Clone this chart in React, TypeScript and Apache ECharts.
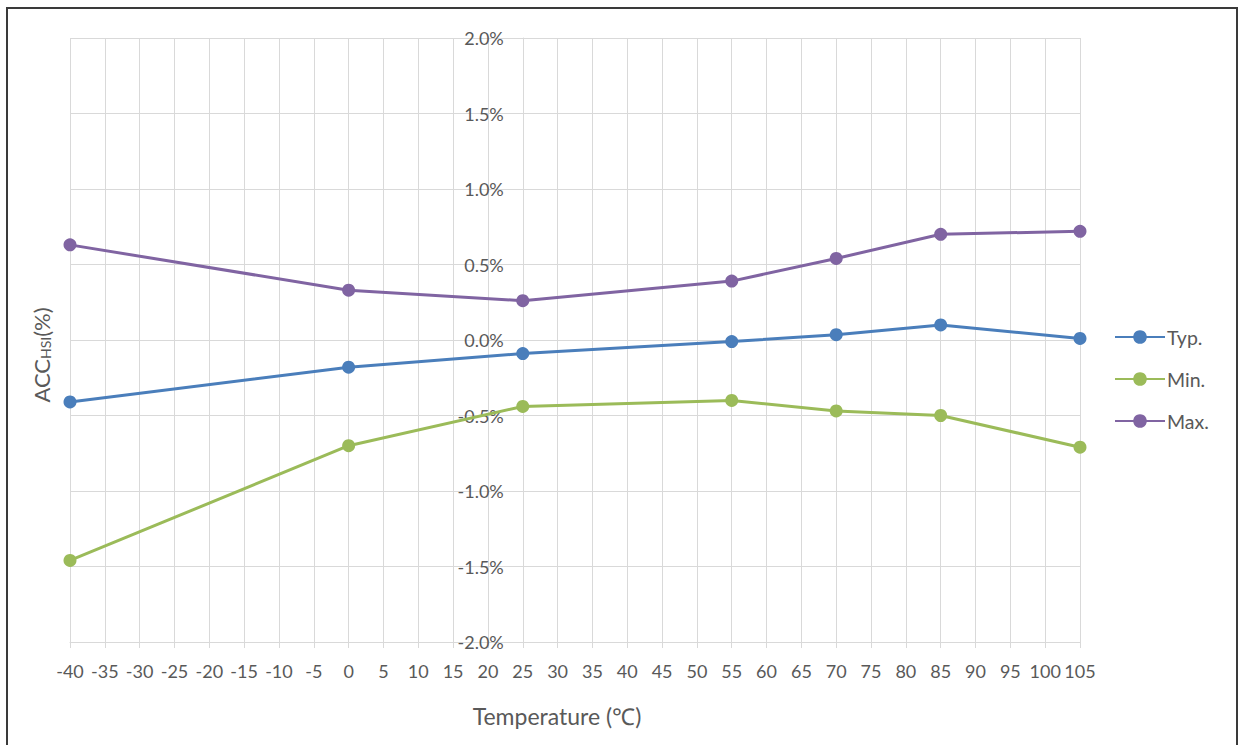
import React, { useEffect, useRef } from "react";
import * as echarts from "echarts";

// Temperature points (°C) shared by all three series
const temperatures = [-40, 0, 25, 55, 70, 85, 105];

// HSI oscillator accuracy, in percent
const typValues = [-0.41, -0.18, -0.09, -0.01, 0.035, 0.1, 0.01];
const minValues = [-1.46, -0.7, -0.44, -0.4, -0.47, -0.5, -0.71];
const maxValues = [0.63, 0.33, 0.26, 0.39, 0.54, 0.7, 0.72];

const seriesNames = ["Typ.", "Min.", "Max."];
const seriesColors = ["#4a7ebb", "#9bbb59", "#8064a2"];

const X_MIN = -40;
const X_MAX = 105;
const X_STEP = 5;
const Y_MIN = -2;
const Y_MAX = 2;
const Y_STEP = 0.5;
// The vertical axis crosses the horizontal one at this temperature
const Y_AXIS_CROSS = 25;

const FONT = "Lato, 'Open Sans', sans-serif";
const TEXT = "#595959";
const GRID_LINE = "#d9d9d9";

export default function App() {
  const ref = useRef<HTMLDivElement>(null);

  useEffect(() => {
    if (!ref.current) return;
    const chart = echarts.init(ref.current, null, { renderer: "svg" });

    const gridLeft = 70;
    const gridRight = 160;
    const plotWidth = 1240 - gridLeft - gridRight;
    const crossOffset = -((Y_AXIS_CROSS - X_MIN) / (X_MAX - X_MIN)) * plotWidth;

    const pairs = (vals: number[]) => temperatures.map((t, i) => [t, vals[i]]);
    const allValues = [typValues, minValues, maxValues];

    chart.setOption({
      animation: false,
      backgroundColor: "#ffffff",
      textStyle: { fontFamily: FONT },
      grid: { left: gridLeft, right: gridRight, top: 38, bottom: 103, containLabel: false },
      legend: {
        orient: "vertical",
        left: 1109,
        top: 322,
        itemWidth: 50,
        itemHeight: 17,
        itemGap: 22,
        textStyle: { color: TEXT, fontSize: 19.5, fontFamily: FONT, padding: [0, 0, 0, -3] },
        data: seriesNames,
      },
      xAxis: {
        type: "value",
        min: X_MIN,
        max: X_MAX,
        interval: X_STEP,
        axisLine: { show: true, onZero: false, lineStyle: { color: GRID_LINE, width: 1 } },
        axisTick: { show: true, length: 6, lineStyle: { color: GRID_LINE } },
        axisLabel: { color: TEXT, fontSize: 18, fontFamily: FONT, margin: 20 },
        splitLine: { show: true, lineStyle: { color: GRID_LINE, width: 1 } },
      },
      yAxis: {
        type: "value",
        min: Y_MIN,
        max: Y_MAX,
        interval: Y_STEP,
        position: "left",
        offset: crossOffset,
        axisLine: { show: true, onZero: false, lineStyle: { color: GRID_LINE, width: 1 } },
        axisTick: { show: true, length: 4, lineStyle: { color: GRID_LINE } },
        axisLabel: {
          color: TEXT,
          fontSize: 18,
          fontFamily: FONT,
          margin: 19,
          formatter: (v: number) => v.toFixed(1) + "%",
        },
        splitLine: { show: true, lineStyle: { color: GRID_LINE, width: 1 } },
      },
      series: seriesNames.map((name, i) => ({
        name,
        type: "line",
        data: pairs(allValues[i]),
        symbol: "circle",
        symbolSize: 13,
        color: seriesColors[i],
        lineStyle: { width: 3, color: seriesColors[i] },
        itemStyle: { color: seriesColors[i] },
        z: 3 - i,
      })),
      graphic: [
        {
          type: "rect",
          shape: { x: 7, y: 8, width: 1230, height: 760 },
          style: { fill: "none", stroke: "#3a3a3a", lineWidth: 2 },
          silent: true,
        },
        {
          type: "text",
          x: 557,
          y: 716,
          style: {
            text: "Temperature (℃)",
            fill: TEXT,
            font: `23px ${FONT}`,
            textAlign: "center",
            textVerticalAlign: "middle",
          },
        },
        {
          type: "text",
          x: 41,
          y: 355,
          rotation: Math.PI / 2,
          style: {
            text: "{n|ACC}{s|HSI}{n|(%)}",
            textAlign: "center",
            textVerticalAlign: "middle",
            rich: {
              n: { fill: TEXT, fontSize: 22, fontFamily: FONT },
              s: { fill: TEXT, fontSize: 14, fontFamily: FONT, padding: [8, 0, 0, 0] },
            },
          },
        },
      ],
    });

    return () => chart.dispose();
  }, []);

  return (
    <div
      ref={ref}
      style={{ position: "fixed", left: 0, top: 0, width: 1240, height: 745 }}
    />
  );
}
